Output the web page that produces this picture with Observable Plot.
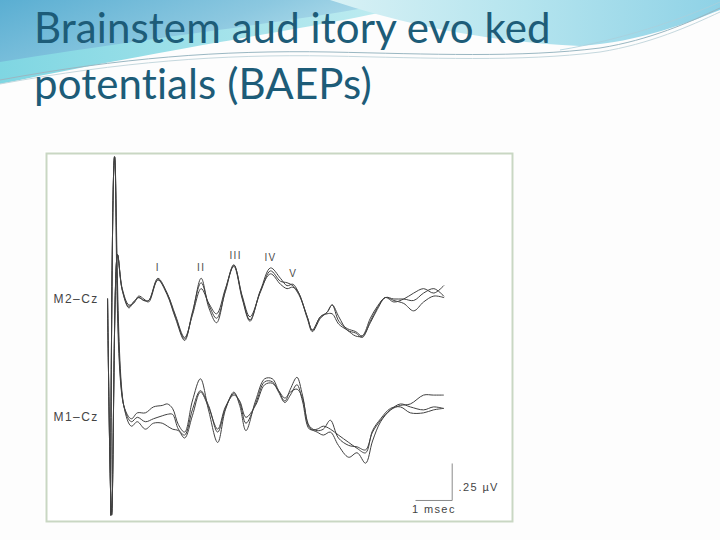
<!DOCTYPE html>
<html><head><meta charset="utf-8">
<script src="https://cdn.jsdelivr.net/npm/d3@7"></script>
<script src="https://cdn.jsdelivr.net/npm/@observablehq/plot@0.6"></script>
<style>
body{margin:0;width:720px;height:540px;overflow:hidden;background:#fdfdfd;position:relative}
#bg{position:absolute;left:0;top:0}
#title{position:absolute;left:34px;top:-1px;font-family:Lato,"Open Sans",sans-serif;font-size:42px;line-height:56px;color:#1d5c78;white-space:nowrap;font-variant-ligatures:none;letter-spacing:0.1px}
#chart{position:absolute;left:44px;top:151px}
</style></head>
<body>
<svg id="bg" width="720" height="130">
  <defs>
    <linearGradient id="gL" x1="0" y1="0" x2="1" y2="0.4">
      <stop offset="0" stop-color="#5aaed2"/><stop offset="0.6" stop-color="#8cc8e0"/><stop offset="1" stop-color="#b9e2ee"/>
    </linearGradient>
    <linearGradient id="gC" x1="0" y1="0" x2="1" y2="0">
      <stop offset="0" stop-color="#7fd6e2"/><stop offset="1" stop-color="#c5eef2"/>
    </linearGradient>
    <linearGradient id="gR" x1="0" y1="0" x2="1" y2="0">
      <stop offset="0" stop-color="#d8f1f5"/><stop offset="0.5" stop-color="#b4e4ee"/><stop offset="1" stop-color="#8fd2e6"/>
    </linearGradient>
  </defs>
  <path d="M0,0 L430,0 C360,22 220,38 0,84 Z" fill="url(#gC)"/>
  <path d="M0,0 L400,0 C330,18 200,30 0,62 Z" fill="url(#gL)"/>
  <path d="M330,0 C420,30 500,42 580,46 C640,42 690,22 720,10 L720,0 Z" fill="url(#gR)"/>
  <path d="M0,80 C120,58 220,50 330,52 C430,54 520,58 600,48 C650,40 690,22 720,8" fill="none" stroke="#9ab7c2" stroke-width="1"/>
  <path d="M0,84 C120,62 220,54 330,56 C430,58 520,62 600,52 C650,44 690,26 720,12" fill="none" stroke="#c5d8de" stroke-width="1"/>
  <path d="M560,50 C620,40 680,20 720,2" fill="none" stroke="#a9cfdc" stroke-width="0.8"/>
</svg>
<div id="title">Brainstem aud itory evo ked<br>potentials (BAEPs)</div>
<div id="chart"></div>
<script>
// Time (ms after stimulus) and amplitude (µV) for the M2–Cz replicates
const m2Time = [-0.08, 0.03, 0.19, 0.32, 0.50, 0.63, 0.77, 0.91, 1.04, 1.29, 1.54, 1.77, 2.02, 2.23, 2.47, 2.68, 2.89, 3.13, 3.36, 3.59, 3.80, 4.09, 4.36, 4.63, 4.81, 4.97, 5.13, 5.36, 5.50, 5.72, 5.90, 6.04, 6.22, 6.45, 6.68, 6.86, 7.08, 7.27, 7.49, 7.72, 7.99, 8.26, 8.53, 8.81, 9.08];
const m2RepA = [0.01, -1.45, 0.31, 0.07, -0.04, -0.01, 0.02, 0.00, 0.00, 0.15, 0.05, -0.11, -0.26, -0.09, 0.15, -0.05, -0.15, 0.07, 0.24, 0.02, -0.13, 0.07, 0.22, 0.15, 0.10, 0.11, 0.05, -0.11, -0.20, -0.11, -0.08, -0.03, -0.11, -0.20, -0.22, -0.25, -0.14, -0.05, 0.02, -0.01, 0.01, 0.05, 0.08, 0.05, 0.10];
const m2RepB = [0.01, -1.45, 0.31, 0.08, -0.03, -0.02, 0.03, 0.01, -0.01, 0.14, 0.04, -0.12, -0.27, -0.08, 0.12, -0.03, -0.12, 0.06, 0.24, 0.03, -0.11, 0.06, 0.20, 0.13, 0.12, 0.10, 0.05, -0.12, -0.21, -0.12, -0.08, -0.03, -0.14, -0.19, -0.21, -0.24, -0.15, -0.06, 0.02, 0.01, 0.01, 0.00, 0.05, 0.08, 0.03];
const m2RepC = [0.01, -1.45, 0.31, 0.07, -0.05, -0.01, 0.02, 0.00, 0.00, 0.14, 0.05, -0.10, -0.25, -0.10, 0.08, -0.02, -0.09, 0.08, 0.23, 0.01, -0.14, 0.07, 0.18, 0.11, 0.08, 0.09, 0.04, -0.11, -0.20, -0.11, -0.09, -0.09, -0.16, -0.20, -0.24, -0.24, -0.12, -0.04, 0.02, 0.00, -0.02, -0.07, -0.01, 0.03, 0.02];

// M1–Cz replicates
const m1Time = [0.00, 0.11, 0.36, 0.57, 0.73, 0.95, 1.17, 1.41, 1.55, 1.69, 1.85, 2.02, 2.23, 2.45, 2.67, 2.92, 3.13, 3.36, 3.52, 3.69, 3.95, 4.20, 4.41, 4.58, 4.75, 4.90, 5.08, 5.23, 5.42, 5.63, 5.80, 5.99, 6.21, 6.49, 6.72, 6.95, 7.14, 7.36, 7.63, 7.90, 8.17, 8.53, 8.80, 9.07];
const m1RepA = [-0.74, 1.68, 0.00, -0.09, -0.05, -0.05, -0.01, 0.00, 0.01, -0.02, -0.13, -0.18, 0.03, 0.18, -0.03, -0.25, -0.03, 0.09, 0.00, -0.17, 0.03, 0.18, 0.18, 0.10, 0.03, 0.11, 0.19, 0.07, -0.14, -0.17, -0.16, -0.10, -0.22, -0.27, -0.28, -0.30, -0.18, -0.10, -0.03, 0.00, 0.01, 0.07, 0.07, 0.07];
const m1RepB = [-0.74, 1.68, 0.00, -0.11, -0.08, -0.11, -0.09, -0.07, -0.06, -0.06, -0.16, -0.20, -0.03, 0.10, 0.00, -0.18, -0.02, 0.08, 0.02, -0.12, 0.01, 0.16, 0.16, 0.09, 0.02, 0.07, 0.14, 0.03, -0.16, -0.16, -0.14, -0.16, -0.20, -0.25, -0.29, -0.32, -0.17, -0.09, -0.02, -0.01, -0.05, -0.05, -0.03, -0.02];
const m1RepC = [-0.74, 1.68, 0.00, -0.14, -0.11, -0.16, -0.12, -0.12, -0.14, -0.16, -0.17, -0.22, -0.07, 0.09, -0.01, -0.16, -0.01, 0.07, 0.03, -0.08, 0.00, 0.14, 0.15, 0.10, 0.05, 0.09, 0.11, 0.05, -0.15, -0.18, -0.20, -0.18, -0.27, -0.35, -0.32, -0.39, -0.24, -0.11, -0.03, 0.01, -0.01, -0.03, -0.01, -0.02];

// Channel labels
const channels = ["M2\u2013Cz", "M1\u2013Cz"];

// Wave labels (peaks of M2–Cz): label, time (ms), amplitude (µV)
const waveLabels = ["I", "II", "III", "IV", "V"];
const waveTimes = [1.29, 2.47, 3.41, 4.36, 4.98];
const waveAmps = [0.22, 0.22, 0.30, 0.29, 0.18];

// Calibration bar
const calMs = 1, calUv = 0.25;
const calLabels = ["1 msec", ".25 \u00b5V"];

// layout: vertical offsets of the two channels (µV units of the drawing)
const offM2 = 1.493, offM1 = 0.784;
const rows = [];
function add(ch, t, reps, off) {
  reps.forEach((r, k) => r.forEach((v, i) => rows.push({key: ch + k, t: t[i], v: v + off})));
}
add("M2", m2Time, [m2RepA, m2RepB, m2RepC], offM2);
add("M1", m1Time, [m1RepA, m1RepB, m1RepC], offM1);

const calT0 = 8.31, calY0 = 0.142;
const calLinks = [
  {x1: calT0, y1: calY0, x2: calT0 + calMs, y2: calY0},
  {x1: calT0 + calMs, y1: calY0, x2: calT0 + calMs, y2: calY0 + calUv}
];

const chart = Plot.plot({
  width: 470, height: 372,
  marginTop: 2, marginRight: 2, marginBottom: 2, marginLeft: 2,
  style: {background: "#ffffff", fontFamily: "Liberation Sans, Arial, sans-serif", letterSpacing: "1.4px"},
  x: {domain: [-1.744, 10.953], axis: null},
  y: {domain: [0, 2.486], axis: null},
  marks: [
    Plot.frame({stroke: "#c9d7c3", strokeWidth: 2}),
    Plot.line(rows, {x: "t", y: "v", z: "key", curve: "catmull-rom", stroke: "#404040", strokeWidth: 1}),
    Plot.text(waveLabels, {x: (d, i) => waveTimes[i], y: (d, i) => waveAmps[i] + offM2, text: d => d, fontSize: 10, fill: "#4a4a4a"}),
    Plot.text(channels, {x: -1.55, y: (d, i) => i === 0 ? offM2 + 0.01 : offM1 - 0.08, text: d => d, textAnchor: "start", fontSize: 12, fill: "#444"}),
    Plot.link(calLinks, {x1: "x1", y1: "y1", x2: "x2", y2: "y2", stroke: "#8a8a8a", strokeWidth: 1}),
    Plot.text([calLabels[0]], {x: calT0 + calMs / 2, y: calY0 - 0.062, text: d => d, fontSize: 11, fill: "#444"}),
    Plot.text([calLabels[1]], {x: calT0 + calMs + 0.17, y: calY0 + 0.09, text: d => d, textAnchor: "start", fontSize: 11, fill: "#444"})
  ]
});
document.getElementById("chart").appendChild(chart);
</script>
</body></html>
